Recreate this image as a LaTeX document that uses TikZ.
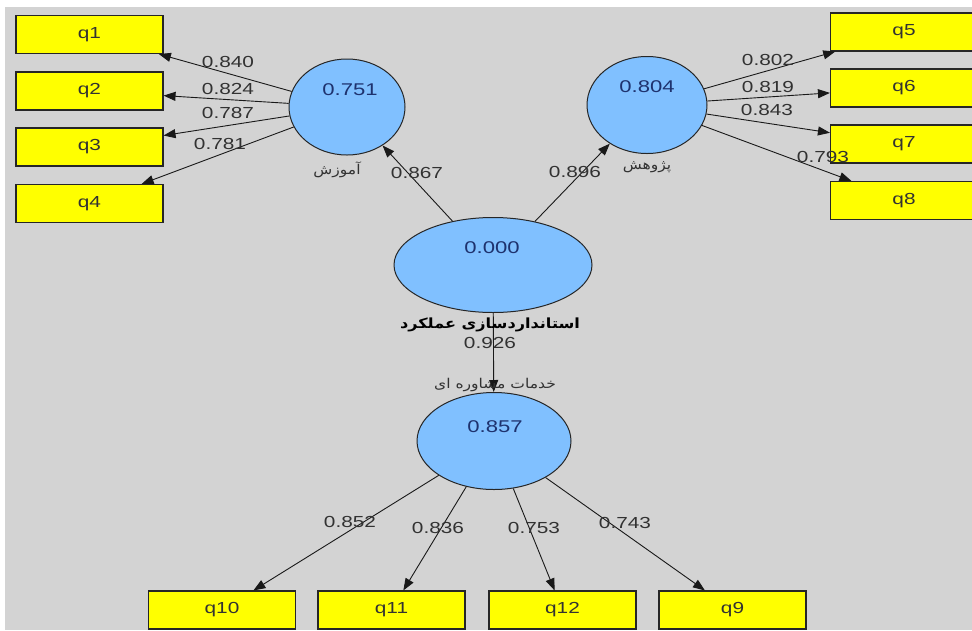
\documentclass[tikz,border=0pt]{standalone}
\usepackage{fontspec}
\setmainfont{Liberation Sans}[FakeStretch=1.3]
\newfontfamily\arabicfont[Script=Arabic,FakeStretch=1.15]{DejaVu Sans}
\TeXXeTstate=1
\usetikzlibrary{shapes.geometric,arrows.meta}
\definecolor{bg}{RGB}{211,211,211}
\definecolor{lv}{RGB}{128,192,255}
\definecolor{boxy}{RGB}{255,255,0}
\definecolor{numblue}{RGB}{30,50,110}
\definecolor{txt}{RGB}{50,50,50}
\begin{document}
\begin{tikzpicture}[x=1pt,y=-1pt,
 ind/.style={draw=black!85, line width=1.1pt, fill=boxy, minimum width=147pt, minimum height=38pt, inner sep=0pt, font=\fontsize{16}{18}\selectfont, text=txt},
 lat/.style={ellipse, draw=black!85, line width=1pt, fill=lv, inner sep=0pt},
 num/.style={font=\fontsize{17}{20}\selectfont, text=numblue},
 ld/.style={font=\fontsize{16}{18}\selectfont, text=txt},
 ar/.style={font=\arabicfont\fontsize{13.5}{15}\selectfont, text=txt},
 arb/.style={font=\arabicfont\bfseries\fontsize{14}{16}\selectfont, text=black},
 arr/.style={draw=black!90, line width=0.9pt, -{Triangle[length=12pt,width=9pt]}}]
\useasboundingbox (0,0) rectangle (972,630);
\fill[white] (0,0) rectangle (972,630);
\fill[bg] (5,7) rectangle (972,630);
\clip (0,0) rectangle (972,630);

% indicators
\node[ind] (q1) at (89.5,34.5) {q1};
\node[ind] (q2) at (89.5,91) {q2};
\node[ind] (q3) at (89.5,147) {q3};
\node[ind] (q4) at (89.5,203.5) {q4};
\node[ind] (q5) at (904,32) {q5};
\node[ind] (q6) at (904,88) {q6};
\node[ind] (q7) at (904,144) {q7};
\node[ind] (q8) at (904,200.5) {q8};
\node[ind] (q10) at (222,610) {q10};
\node[ind] (q11) at (391.5,610) {q11};
\node[ind] (q12) at (562.5,610) {q12};
\node[ind] (q9) at (732.5,610) {q9};

% latent variables
\node[lat, minimum width=116pt, minimum height=96pt] (A) at (347,107) {};
\node[lat, minimum width=120pt, minimum height=97pt] (P) at (647,105) {};
\node[lat, minimum width=198pt, minimum height=95pt] (C) at (493,265) {};
\node[lat, minimum width=154pt, minimum height=97pt] (K) at (494,441) {};

\node[num] (nA) at (350,90) {0.751};
\node[num] (nP) at (647,87) {0.804};
\node[num] (nC) at (492,248) {0.000};
\node[num] (nK) at (495,427) {0.857};

% arrows
\draw[arr] (A) -- (q1);
\draw[arr] (A) -- (q2);
\draw[arr] (A) -- (q3);
\draw[arr] (A) -- (q4);
\draw[arr] (P) -- (q5);
\draw[arr] (P) -- (q6);
\draw[arr] (P) -- (q7);
\draw[arr] (P) -- (q8);
\draw[arr] (K) -- (q10);
\draw[arr] (K) -- (q11);
\draw[arr] (K) -- (q12);
\draw[arr] (K) -- (q9);
\draw[arr] (C) -- (A);
\draw[arr] (C) -- (P);
\draw[arr] (C) -- (K);

% loadings
\node[ld] (l1) at (228,62) {0.840};
\node[ld] (l2) at (228,89) {0.824};
\node[ld] (l3) at (228,113) {0.787};
\node[ld] (l4) at (220,144) {0.781};
\node[ld] (l5) at (768,60) {0.802};
\node[ld] (l6) at (768,87) {0.819};
\node[ld] (l7) at (767,110) {0.843};
\node[ld] (l8) at (823,157) {0.793};
\node[ld] (l10) at (350,522) {0.852};
\node[ld] (l11) at (438,528) {0.836};
\node[ld] (l12) at (534,528) {0.753};
\node[ld] (l9) at (625,523) {0.743};
\node[ld] (pA) at (417,173) {0.867};
\node[ld] (pP) at (575,172) {0.896};
\node[ld] (pK) at (490,343) {0.926};

% construct names
\node[ar] (tA) at (337,170) {\beginR آموزش\endR};
\node[ar] (tP) at (647,167) {\beginR پژوهش\endR};
\node[arb] (tC) at (490,325) {\beginR استانداردسازی عملکرد\endR};
\node[ar] (tK) at (495,385) {\beginR خدمات مشاوره ای\endR};
\end{tikzpicture}
\end{document}
